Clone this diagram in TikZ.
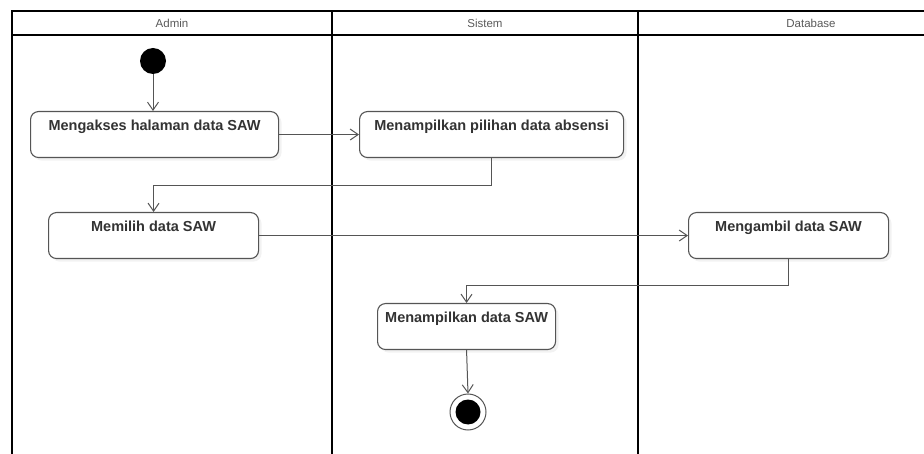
\documentclass[tikz,border=0pt]{standalone}
\usepackage{fontspec}
\setmainfont{Liberation Sans}
\usetikzlibrary{arrows.meta,shadows}
\definecolor{garis}{HTML}{555555}
\definecolor{teks}{HTML}{333333}
\tikzset{
  aktivitas/.style={draw=garis, line width=1.1pt, rounded corners=8pt, fill=white,
    font=\bfseries\fontsize{14.5}{16}\selectfont, text=teks, anchor=north west,
    inner xsep=0pt, inner ysep=0pt, text height=19pt, text depth=27pt,
    drop shadow={shadow xshift=3pt, shadow yshift=-3pt, fill=black!10}},
  alur/.style={draw=garis, line width=1pt, -{Straight Barb[length=8pt,width=11pt]}},
  lajur/.style={line width=1.8pt},
  judul/.style={font=\fontsize{11.5}{13}\selectfont, text=black!65}
}
\begin{document}
\begin{tikzpicture}[x=1pt, y=-1pt]
	\useasboundingbox (0,0) rectangle (924,454);
	\clip (0,0) rectangle (924,454);

	% Lajur (swimlane)
	\draw[lajur] (12,470) -- (12,11) -- (990,11);
	\draw[lajur] (12,35) -- (990,35);
	\draw[lajur] (332,11) -- (332,470);
	\draw[lajur] (638,11) -- (638,470);
	\node[judul] (hadmin) at (172,23) {Admin};
	\node[judul] (hsistem) at (485,23) {Sistem};
	\node[judul] (hdatabase) at (811,23) {Database};

	% Titik awal
	\node[circle, fill=black, minimum size=26pt, inner sep=0pt] (mulai) at (153,61) {};

	% Aktivitas
	\node[aktivitas, minimum width=248pt] (akses) at (30,111) {Mengakses halaman data SAW};
	\node[aktivitas, minimum width=264pt] (pilihan) at (359,111) {Menampilkan pilihan data absensi};
	\node[aktivitas, minimum width=210pt] (memilih) at (48,212) {Memilih data SAW};
	\node[aktivitas, minimum width=200pt] (ambil) at (688,212) {Mengambil data SAW};
	\node[aktivitas, minimum width=178pt] (tampil) at (377,303) {Menampilkan data SAW};

	% Titik akhir
	\node[circle, draw=garis, line width=1pt, fill=white, minimum size=36pt, inner sep=0pt] (selesai) at (468,412) {};
	\node[circle, fill=black, minimum size=25pt, inner sep=0pt] (selesaiinti) at (selesai) {};

	% Alur
	\draw[alur] (mulai) -- (mulai |- akses.north);
	\draw[alur] (akses.east) -- (akses.east -| pilihan.west);
	\draw[alur] (pilihan.south) -- ++(0,27) -| (memilih.north);
	\draw[alur] (memilih.east) -- (memilih.east -| ambil.west);
	\draw[alur] (ambil.south) -- ++(0,26) -| (tampil.north);
	\draw[alur] (tampil.south) -- (selesai.north);
\end{tikzpicture}
\end{document}
